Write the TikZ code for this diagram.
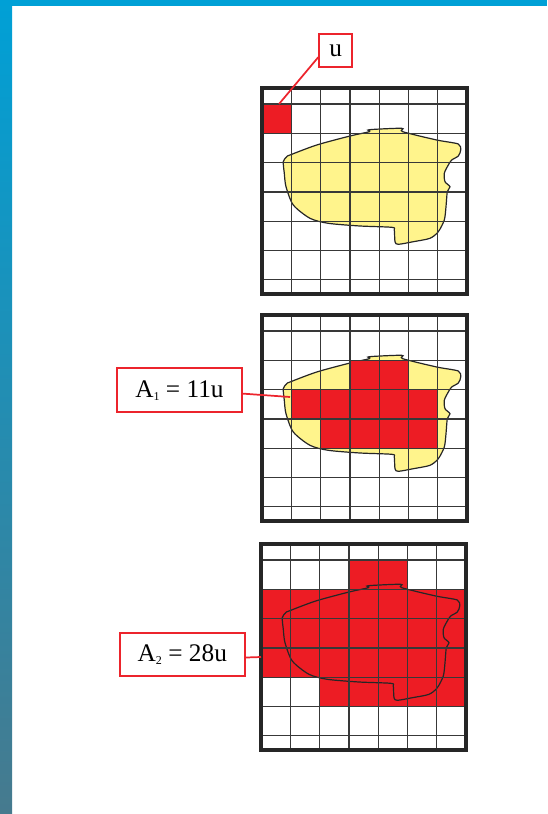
\documentclass[tikz,border=0pt]{standalone}
\usepackage{fontspec}
\setmainfont{Liberation Serif}
\usetikzlibrary{positioning,calc}

\definecolor{bandblue}{RGB}{0,160,214}
\definecolor{bandgrey}{RGB}{70,122,142}
\definecolor{cellred}{RGB}{237,28,36}
\definecolor{tagred}{RGB}{236,36,44}
\definecolor{blobyellow}{RGB}{255,244,140}

% small low index, as in A_1
\newcommand{\lowidx}[1]{\raisebox{-2.2pt}{\fontsize{9}{9}\selectfont #1}}
% one unit square of the counting grid, column #1, row #2
\newcommand{\unitcell}[2]{\fill[cellred] ({29.3*#1},{16+29.3*(#2-1)}) rectangle ++(29.3,29.3);}
% the irregular figure whose area is counted
\newcommand{\figblob}[1]{\draw[#1] plot[smooth cycle, tension=0.45] coordinates {
  (28,67) (54.7,57) (88,48) (107.3,43.7) (107.3,41.7) (139.7,40.3) (140.7,43.7)
  (174.7,52) (196.3,56) (198.7,62) (196.3,68) (189.7,72) (186.3,77) (182.3,85.3)
  (183,93.7) (188,98.7) (185.3,103.7) (184,118.7) (182.3,132) (176.3,143.7)
  (168,150.3) (151.3,153.7) (136.3,156.3) (133,153.7) (132.3,142) (129.7,139.3)
  (98,138) (66.3,135.3) (48,130.3) (31.3,117) (24,98.7) (22.3,85.3) (21.3,73.7)
  (24.7,68.7)};}
\newcommand{\countgrid}{%
  \foreach \k in {1,...,6} \draw[gridline] ({29.3*\k},0) -- ({29.3*\k},206);
  \foreach \k in {0,...,6} \draw[gridline] (0,{16+29.3*\k}) -- (205,{16+29.3*\k});
  \draw[frame] (0,0) rectangle (205,206);}

\begin{document}
\begin{tikzpicture}[x=0.75pt, y=-0.75pt,
  gridline/.style={black!78, line width=0.9pt},
  frame/.style={black!85, line width=2.4pt},
  blob/.style={draw=black!85, line width=0.9pt},
  tag/.style={draw=tagred, line width=1.5pt, fill=white, inner sep=0pt,
    font=\fontsize{19}{22}\selectfont},
  link/.style={draw=tagred, line width=1.3pt}]
  \useasboundingbox (0,0) rectangle (547,814);
  % page bands
  \fill[bandblue] (0,0) rectangle (547,6);
  \shade[top color=bandblue, bottom color=bandgrey] (0,0) rectangle (12,814);

  % grid 1: the unit
  \begin{scope}[shift={(262,88)}]
    \figblob{blob, fill=blobyellow}
    \unitcell{0}{1}
    \countgrid
    \coordinate (ucell) at (17,16);
  \end{scope}

  % grid 2: squares inside the figure
  \begin{scope}[shift={(262,315)}]
    \figblob{blob, fill=blobyellow}
    \foreach \i in {3,4} {\unitcell{\i}{2}}
    \foreach \i in {1,...,5} {\unitcell{\i}{3}}
    \foreach \i in {2,...,5} {\unitcell{\i}{4}}
    \countgrid
    \coordinate (a1end) at (28,82);
  \end{scope}

  % grid 3: squares covering the figure
  \begin{scope}[shift={(261,544)}]
    \foreach \i in {3,4} {\unitcell{\i}{1}}
    \foreach \j in {2,3,4} {\foreach \i in {0,...,6} {\unitcell{\i}{\j}}}
    \foreach \i in {2,...,6} {\unitcell{\i}{5}}
    \figblob{blob}
    \countgrid
    \coordinate (a2end) at (0,113);
  \end{scope}

  \node[tag, minimum width=24.75pt, minimum height=24.75pt] (u) at (335.8,50.8) {u};
  \node[tag, minimum width=93.75pt, minimum height=33pt] (a1) at (179.5,390.3) {A\lowidx{1} = 11u};
  \node[tag, minimum width=93.5pt, minimum height=32.3pt] (a2) at (182.3,654.2) {A\lowidx{2} = 28u};
  \draw[link] (u.200) -- (ucell);
  \draw[link] (a1.-3) -- (a1end);
  \draw[link] (a2.-3) -- (a2end);
\end{tikzpicture}
\end{document}
